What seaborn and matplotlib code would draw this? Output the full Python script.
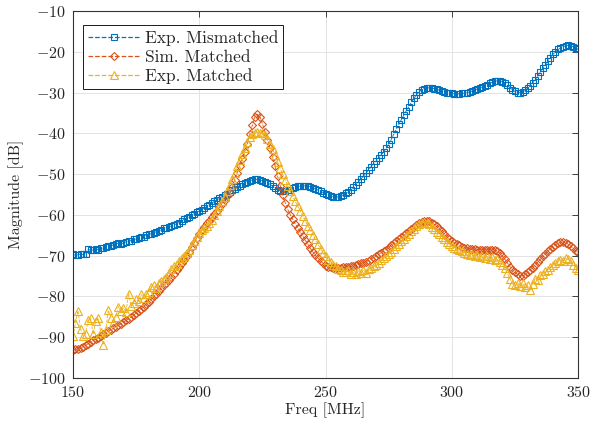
import numpy as np
import pandas as pd
import matplotlib
matplotlib.use("Agg")
import matplotlib.pyplot as plt
import seaborn as sns

# Frequency grid [MHz]
freq = np.arange(150, 351, 1)

exp_mismatched = [
    -69.7, -69.9, -69.8, -69.6, -69.7, -69.5, -68.4, -68.7, -68.6, -68.3,
    -68.5, -68.1, -68.2, -67.9, -67.6, -67.7, -67.3, -67.1, -67.0, -67.1,
    -66.9, -66.6, -66.4, -66.3, -66.0, -65.9, -65.7, -65.4, -65.3, -65.0,
    -64.8, -64.6, -64.4, -64.1, -63.9, -63.6, -63.3, -63.1, -62.9, -62.7,
    -62.4, -62.2, -61.9, -61.5, -61.1, -60.8, -60.4, -60.0, -59.7, -59.3,
    -59.0, -58.7, -58.3, -57.9, -57.5, -57.1, -56.7, -56.3, -55.9, -55.5,
    -55.2, -54.8, -54.4, -54.0, -53.6, -53.2, -52.8, -52.4, -52.1, -51.8,
    -51.6, -51.4, -51.3, -51.3, -51.4, -51.6, -51.8, -52.1, -52.5, -52.9,
    -53.4, -53.8, -54.1, -54.2, -54.2, -54.0, -53.8, -53.5, -53.2, -53.0,
    -52.9, -52.8, -52.9, -53.0, -53.1, -53.3, -53.6, -53.9, -54.2, -54.5,
    -54.8, -55.1, -55.3, -55.5, -55.6, -55.6, -55.4, -55.1, -54.7, -54.3,
    -53.8, -53.2, -52.6, -51.9, -51.2, -50.5, -49.7, -49.0, -48.2, -47.5,
    -46.8, -46.1, -45.3, -44.5, -43.7, -42.6, -41.5, -40.2, -39.0, -37.8,
    -36.6, -35.5, -34.4, -33.4, -32.4, -31.4, -30.5, -29.8, -29.3, -29.0,
    -28.9, -28.8, -28.9, -29.0, -29.2, -29.4, -29.6, -29.8, -30.0, -30.1,
    -30.2, -30.3, -30.3, -30.3, -30.2, -30.1, -30.0, -29.8, -29.6, -29.4,
    -29.1, -28.9, -28.6, -28.3, -28.0, -27.7, -27.4, -27.2, -27.1, -27.1,
    -27.3, -27.7, -28.2, -28.8, -29.3, -29.7, -30.0, -30.0, -29.8, -29.4,
    -28.9, -28.3, -27.6, -26.8, -25.9, -24.9, -24.0, -23.1, -22.2, -21.4,
    -20.6, -20.0, -19.4, -19.0, -18.7, -18.5, -18.4, -18.5, -18.7, -19.0,
    -19.4,
]

sim_matched = [
    -93.2, -93.0, -92.8, -92.6, -92.4, -92.0, -91.6, -91.2, -90.8, -90.5,
    -90.1, -89.7, -89.3, -88.9, -88.5, -88.2, -87.8, -87.5, -87.1, -86.7,
    -86.3, -85.9, -85.5, -85.1, -84.6, -84.1, -83.6, -83.1, -82.5, -81.9,
    -81.3, -80.7, -80.0, -79.4, -78.7, -78.0, -77.3, -76.6, -75.9, -75.2,
    -74.4, -73.6, -72.8, -71.9, -71.0, -70.0, -69.0, -67.9, -66.8, -65.7,
    -64.6, -63.7, -62.9, -62.1, -61.4, -60.6, -59.8, -59.0, -58.1, -57.2,
    -56.3, -55.4, -54.5, -53.2, -51.5, -49.6, -47.9, -46.2, -44.5, -42.5,
    -40.2, -38.0, -36.0, -35.3, -35.9, -37.6, -39.6, -41.6, -43.6, -45.9,
    -48.1, -50.5, -52.8, -55.0, -57.0, -58.6, -59.9, -61.1, -62.2, -63.2,
    -64.2, -65.2, -66.2, -67.2, -68.2, -69.1, -69.9, -70.6, -71.2, -71.9,
    -72.5, -72.7, -72.8, -72.9, -73.0, -73.0, -72.9, -72.8, -72.8, -72.7,
    -72.6, -72.5, -72.3, -72.1, -71.9, -71.7, -71.5, -71.2, -70.9, -70.5,
    -70.1, -69.7, -69.3, -68.9, -68.5, -68.0, -67.5, -67.0, -66.5, -66.0,
    -65.5, -65.0, -64.4, -63.9, -63.4, -62.9, -62.5, -62.1, -61.7, -61.5,
    -61.5, -61.6, -61.9, -62.3, -62.8, -63.4, -64.0, -64.7, -65.3, -65.9,
    -66.4, -66.8, -67.2, -67.5, -67.8, -68.0, -68.2, -68.3, -68.4, -68.4,
    -68.5, -68.5, -68.6, -68.5, -68.6, -68.5, -68.6, -68.7, -68.9, -69.4,
    -70.1, -70.9, -71.8, -72.7, -73.4, -74.1, -74.6, -74.9, -75.0, -74.6,
    -74.1, -73.5, -72.9, -72.3, -71.6, -70.9, -70.2, -69.5, -68.9, -68.3,
    -67.8, -67.4, -67.0, -66.7, -66.6, -66.8, -67.2, -67.7, -68.2, -68.8,
    -69.2,
]

exp_matched = [
    -89.8, -86.5, -83.5, -88.0, -89.6, -89.2, -85.9, -85.4, -89.3, -86.0,
    -85.3, -88.7, -91.8, -88.2, -83.4, -85.2, -86.4, -85.0, -82.5, -83.6,
    -82.8, -83.9, -79.3, -82.3, -81.6, -80.7, -81.2, -79.5, -80.3, -79.4,
    -78.8, -77.6, -77.3, -77.9, -76.8, -76.2, -75.8, -75.2, -74.3, -73.2,
    -72.5, -72.0, -71.2, -70.6, -70.0, -69.3, -68.5, -67.5, -66.5, -65.5,
    -64.4, -63.8, -63.2, -62.7, -62.1, -61.2, -60.1, -59.0, -57.8, -56.7,
    -55.5, -54.1, -52.6, -51.2, -49.6, -48.0, -46.6, -45.0, -43.5, -42.0,
    -41.0, -40.2, -39.8, -39.6, -39.8, -40.0, -40.4, -41.4, -42.6, -43.8,
    -45.4, -47.0, -48.5, -50.0, -51.4, -52.8, -54.1, -55.4, -56.7, -57.9,
    -59.1, -60.3, -61.5, -62.7, -63.8, -64.9, -66.0, -67.2, -68.3, -69.3,
    -70.2, -71.0, -71.6, -72.3, -72.6, -73.3, -73.4, -73.9, -74.1, -73.6,
    -74.4, -74.0, -74.5, -73.7, -74.3, -73.5, -74.2, -73.3, -72.9, -72.6,
    -72.2, -71.8, -71.1, -70.6, -70.2, -69.6, -69.0, -68.4, -67.7, -67.1,
    -66.5, -65.8, -65.2, -64.6, -64.0, -63.4, -62.8, -62.3, -61.9, -61.7,
    -61.9, -62.3, -62.9, -63.5, -64.1, -64.7, -65.4, -66.0, -66.6, -67.2,
    -67.7, -68.0, -68.4, -68.7, -68.9, -69.3, -69.5, -69.8, -69.6, -70.1,
    -69.9, -70.4, -70.0, -70.6, -70.2, -70.7, -70.4, -71.0, -70.9, -71.6,
    -72.3, -73.1, -74.3, -75.6, -76.9, -77.3, -76.6, -77.5, -76.8, -77.7,
    -77.2, -78.3, -77.0, -75.6, -75.9, -74.8, -74.5, -73.8, -73.4, -72.8,
    -72.3, -71.9, -71.4, -71.0, -71.3, -70.6, -70.9, -71.4, -72.2, -73.0,
    -73.6,
]

labels = ["Exp. Mismatched", "Sim. Matched", "Exp. Matched"]
colors = ["#0072BD", "#D95319", "#EDB120"]

sns.set_style("whitegrid")
plt.rcParams["font.family"] = ["cmr10", "DejaVu Serif"]
plt.rcParams["mathtext.fontset"] = "cm"
plt.rcParams["axes.formatter.use_mathtext"] = True
plt.rcParams["axes.unicode_minus"] = True

fig = plt.figure(figsize=(5.93, 4.29), dpi=100)
ax = fig.add_axes([0.123, 0.119, 0.852, 0.855])

series = [exp_mismatched, sim_matched, exp_matched]
markers = ["s", "D", "^"]
msizes = [4.6, 4.0, 5.6]
for vals, lab, col, mk, ms in zip(series, labels, colors, markers, msizes):
    df = pd.DataFrame({"freq": freq, "mag": vals})
    sns.lineplot(data=df, x="freq", y="mag", ax=ax, color=col, label=lab,
                 estimator=None, linestyle="--", linewidth=0.6,
                 marker=mk, markersize=ms, markerfacecolor="none",
                 markeredgecolor=col, markeredgewidth=0.8)

ax.set_xlim(150, 350)
ax.set_ylim(-100, -10)
ax.set_xticks([150, 200, 250, 300, 350])
ax.set_yticks(np.arange(-100, -9, 10))
ax.set_xlabel("Freq [MHz]", fontsize=11.5, labelpad=2)
ax.set_ylabel("Magnitude [dB]", fontsize=11.5, labelpad=3)
ax.tick_params(axis="both", which="both", direction="in", length=4,
               width=0.6, labelsize=11.5, top=True, right=True,
               colors="0.15", pad=5)
ax.grid(True, color="#e3e3e3", linewidth=0.7)
for s in ax.spines.values():
    s.set_visible(True)
    s.set_color("0.2")
    s.set_linewidth(0.8)

leg = ax.legend(loc="upper left", bbox_to_anchor=(0.02, 0.962),
                fontsize=12.5, frameon=True, fancybox=False, framealpha=1,
                edgecolor="0.1", handlelength=3.0, borderpad=0.3,
                labelspacing=0.2, handletextpad=0.25, borderaxespad=0.0)
leg.get_frame().set_linewidth(0.7)
for line in leg.get_lines():
    line.set_linewidth(0.9)

fig.savefig("out.png", dpi=100)
